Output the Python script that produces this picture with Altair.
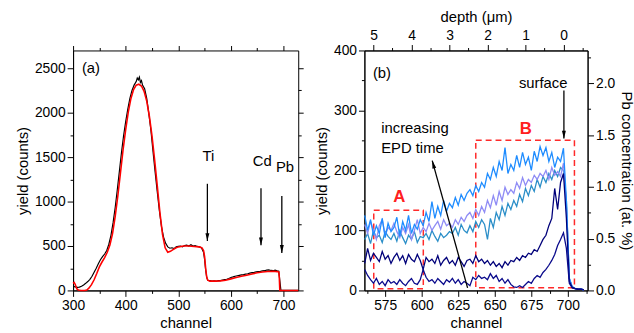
import altair as alt
import pandas as pd

FONT = "Liberation Sans"

# ---------------- panel (a) data ----------------
a_ch = [300, 304, 308, 312, 316, 320, 324, 328, 332, 336, 340, 344, 348, 352, 356, 360,
        364, 368, 372, 376, 380, 384, 388, 392, 396, 400, 404, 408, 412, 416, 420, 422,
        424, 426, 428, 430, 432, 436, 440, 444, 448, 452, 456, 460, 464, 468, 472, 476,
        480, 484, 488, 492, 496, 500, 504, 508, 512, 516, 520, 524, 528, 532, 536, 540,
        544, 548, 550, 552, 554, 556, 560, 564, 568, 572, 576, 580, 584, 588, 592, 596,
        600, 604, 608, 612, 616, 620, 624, 628, 632, 636, 640, 644, 648, 652, 656, 660,
        664, 668, 672, 676, 680, 684, 688, 691, 693, 695, 698, 728]
a_cnt = [45, 40, 35, 38, 48, 62, 80, 100, 125, 160, 205, 250, 300, 345, 380, 410,
         450, 520, 620, 760, 930, 1130, 1340, 1550, 1740, 1900, 2040, 2160, 2250, 2310, 2350, 2390,
         2370, 2400, 2340, 2360, 2310, 2270, 2160, 1990, 1800, 1560, 1330, 1110, 900, 720, 600, 530,
         490, 475, 480, 470, 490, 495, 500, 490, 505, 510, 500, 515, 500, 505, 495, 490,
         480, 430, 350, 230, 150, 115, 110, 105, 108, 104, 112, 110, 118, 122, 126, 135,
         145, 152, 160, 165, 170, 175, 178, 183, 188, 195, 200, 203, 208, 212, 215, 220,
         222, 228, 232, 225, 222, 228, 220, 215, 110, 5, 0, 0]

fit_ch = [300, 302, 304, 307, 310, 315, 322, 326, 330, 335, 340, 345, 350, 355, 360, 365,
          370, 375, 380, 385, 390, 395, 400, 405, 410, 415, 420, 425, 430, 435, 440, 445,
          450, 455, 460, 465, 470, 475, 480, 485, 490, 495, 500, 510, 520, 530, 540, 545,
          548, 550, 552, 554, 556, 560, 570, 580, 590, 600, 610, 620, 630, 640, 650, 660,
          670, 680, 688, 691, 692, 693, 728]
fit_cnt = [80, 90, 70, 20, 5, 0, 0, 5, 25, 65, 120, 190, 265, 320, 370, 430,
           510, 640, 830, 1060, 1320, 1580, 1810, 2010, 2160, 2260, 2310, 2320, 2300, 2240, 2130, 1960,
           1740, 1470, 1180, 880, 630, 480, 430, 440, 460, 478, 490, 500, 500, 495, 490, 480,
           450, 380, 250, 150, 115, 105, 105, 108, 115, 130, 145, 160, 172, 185, 198, 208,
           214, 215, 212, 208, 150, 0, 0]

a_text = ["(a)", "Ti", "Cd", "Pb"]
a_text_ch = [334, 557, 659.4, 702.8]
a_text_cnt = [2500, 1508, 1452, 1389]
a_arrow_ch = [555.3, 657.2, 696.8]
a_arrow_from = [1200, 1149, 1063]
a_arrow_to = [556, 508, 422]

# ---------------- panel (b) data ----------------
b_ch = list(range(561, 713, 2))
s_bright = [125, 100, 118, 92, 108, 95, 120, 88, 112, 98,
            105, 122, 90, 115, 100, 125, 95, 110, 102, 118,
            108, 130, 115, 148, 120, 140, 125, 150, 132, 145,
            138, 155, 142, 160, 150, 162, 168, 158, 175, 165, 180,
            172, 195, 185, 205, 190, 215, 200, 238, 195, 210,
            200, 225, 205, 230, 210, 222, 200, 232, 215, 240,
            225, 238, 215, 230, 205, 222, 215, 237, 150, 20,
            6, 3, 2, 2, 1]
s_lav = [110, 95, 115, 100, 85, 108, 118, 92, 105, 100,
         112, 98, 88, 105, 95, 110, 85, 100, 118, 95,
         105, 98, 112, 100, 108, 115, 102, 118, 108, 112,
         105, 118, 110, 122, 115, 125, 130, 120, 135, 125, 140,
         130, 150, 138, 158, 142, 165, 150, 172, 160, 168,
         162, 180, 170, 188, 175, 185, 180, 192, 185, 195,
         190, 200, 185, 205, 192, 198, 190, 212, 140, 20,
         6, 3, 2, 2, 1]
s_teal = [85, 95, 78, 100, 88, 92, 80, 98, 90, 85,
          95, 82, 100, 88, 78, 92, 85, 98, 80, 90,
          88, 95, 85, 100, 90, 82, 95, 88, 92, 98,
          95, 105, 92, 110, 100, 96, 108, 98, 115, 105, 118,
          110, 85, 120, 105, 130, 118, 140, 125, 145, 135,
          150, 140, 160, 148, 170, 158, 175, 165, 185, 172,
          190, 180, 195, 185, 200, 190, 205, 200, 150, 20,
          6, 3, 2, 2, 1]
s_navy_hi = [45, 70, 50, 62, 55, 48, 65, 52, 58, 45,
             55, 62, 50, 58, 45, 60, 52, 48, 60, 50,
             35, 55, 48, 52, 45, 58, 42, 50, 55, 45,
             50, 42, 55, 48, 40, 50, 52, 45, 58, 48, 52,
             45, 50, 42, 48, 40, 45, 38, 48, 42, 50,
             48, 55, 50, 58, 55, 62, 60, 68, 65, 75,
             85, 92, 108, 120, 170, 135, 180, 195, 120, 15,
             5, 3, 2, 2, 1]
s_navy_lo = [35, 25, 18, 12, 20, 10, 15, 8, 18, 12,
             15, 10, 18, 12, 8, 15, 20, 12, 10, 18,
             35, 22, 15, 18, 12, 20, 15, 10, 18, 14,
             20, 12, 18, 10, 15, 12, 8, 22, 18, 25, 20,
             22, 18, 28, 20, 25, 15, 20, 12, 18, 10,
             6, 5, 8, 5, 10, 15, 12, 20, 25, 22,
             30, 35, 42, 50, 60, 75, 85, 96, 70, 12,
             4, 3, 2, 2, 1]
series_names = ["teal", "lavender", "bright", "navy_hi", "navy_lo"]
series_colors = ["#2a8ec8", "#8f8cf5", "#1e8cff", "#00007a", "#0a0a8c"]
series_values = [s_teal, s_lav, s_bright, s_navy_hi, s_navy_lo]

boxes_ch = [567.2, 637.0]
boxes_ch2 = [601.1, 704.5]
boxes_lo = [2.8, 4.4]
boxes_hi = [133.7, 250.4]
box_text = ["A", "B"]
box_text_ch = [584.7, 671.2]
box_text_cnt = [156, 269.6]

b_text = ["(b)", "surface"]
b_text_ch = [572.8, 683.1]
b_text_cnt = [362.8, 345.2]
epd_text = ["increasing", "EPD time"]
epd_text_ch = [572.3, 572.3]
epd_text_cnt = [270, 237.2]
surf_arrow = {"ch": 697.3, "from": 333.2, "to": 253.2}
epd_arrow = {"ch": 631.4, "cnt": 4.4, "ch2": 607.2, "cnt2": 216.5}

depth_ticks = [5, 4, 3, 2, 1, 0]
conc_ticks = [0.0, 0.5, 1.0, 1.5, 2.0]

# ---------------- helpers ----------------
def cond(test, big, small):
    return {"condition": {"test": test, "value": big}, "value": small}

ARROW_DOWN = "M-0.5,-2L0.5,-2L0,0Z"
ARROW_UP = "M-0.5,2L0.5,2L0,0Z"

# ---------------- panel (a) ----------------
xa_scale = alt.Scale(domain=[300, 728], nice=False, zero=False)
ya_scale = alt.Scale(domain=[0, 2700], nice=False)
xa_axis = alt.Axis(title="channel", values=list(range(300, 701, 50)), format="d",
                   labelExpr="datum.value % 100 == 0 ? datum.label : ''",
                   tickSize=cond("datum.value % 100 == 0", 6, 3))
ya_axis = alt.Axis(title="yield (counts)", values=list(range(0, 2501, 250)), format="d",
                   labelExpr="datum.value % 500 == 0 ? datum.label : ''",
                   tickSize=cond("datum.value % 500 == 0", 6, 3))

def XA(field="ch"):
    return alt.X(f"{field}:Q", scale=xa_scale, axis=xa_axis)

def YA(field="cnt"):
    return alt.Y(f"{field}:Q", scale=ya_scale, axis=ya_axis)

df_a = pd.DataFrame({"ch": a_ch, "cnt": a_cnt})
df_fit = pd.DataFrame({"ch": fit_ch, "cnt": fit_cnt})
df_at = pd.DataFrame({"ch": a_text_ch, "cnt": a_text_cnt, "t": a_text})
df_aarr = pd.DataFrame({"ch": a_arrow_ch, "cnt": a_arrow_from, "cnt2": a_arrow_to})

a_data = alt.Chart(df_a).mark_line(color="black", strokeWidth=1.2).encode(x=XA(), y=YA())
a_fit = alt.Chart(df_fit).mark_line(color="#ff0000", strokeWidth=1.6).encode(x=XA(), y=YA())
a_txt = alt.Chart(df_at).mark_text(font=FONT, fontSize=15, color="black",
                                   align="center", baseline="middle").encode(
    x=XA(), y=YA(), text="t:N")
a_rule = alt.Chart(df_aarr).mark_rule(color="black", strokeWidth=1.3).encode(
    x=XA(), y=YA(), y2=alt.Y2("cnt2:Q"))
a_head = alt.Chart(df_aarr).mark_point(shape=ARROW_DOWN, size=64, filled=True,
                                       color="black", opacity=1).encode(
    x=XA(), y=YA("cnt2"))
a_main = alt.layer(a_data, a_fit, a_txt, a_rule, a_head)

a_mirror = alt.Chart(df_fit).mark_point(opacity=0).encode(
    x=alt.X("ch:Q", scale=xa_scale,
            axis=alt.Axis(orient="top", title=None, labels=False, domain=False,
                          values=list(range(300, 701, 50)),
                          tickSize=cond("datum.value % 100 == 0", 5, 3))),
    y=alt.Y("cnt:Q", scale=ya_scale,
            axis=alt.Axis(orient="right", title=None, labels=False, domain=False,
                          values=list(range(0, 2501, 250)),
                          tickSize=cond("datum.value % 500 == 0", 5, 3))))

panel_a = alt.layer(a_main, a_mirror).resolve_scale(
    x="independent", y="independent").properties(width=228, height=243)

# ---------------- panel (b) ----------------
xb_scale = alt.Scale(domain=[560.8, 713.5], nice=False, zero=False)
yb_scale = alt.Scale(domain=[0, 400], nice=False)
xb_vals = [562.5 + 12.5 * i for i in range(13)]
xb_axis = alt.Axis(title="channel", values=xb_vals, format="d",
                   labelExpr="datum.value % 25 == 0 ? datum.label : ''",
                   tickSize=cond("datum.value % 25 == 0", 6, 3))
yb_axis = alt.Axis(title="yield (counts)", values=list(range(0, 401, 50)), format="d",
                   labelExpr="datum.value % 100 == 0 ? datum.label : ''",
                   tickSize=cond("datum.value % 100 == 0", 6, 3))

def XB(field="ch"):
    return alt.X(f"{field}:Q", scale=xb_scale, axis=xb_axis)

def YB(field="cnt"):
    return alt.Y(f"{field}:Q", scale=yb_scale, axis=yb_axis)

rows = []
for order, (name, vals) in enumerate(zip(series_names, series_values)):
    for c, v in zip(b_ch, vals):
        rows.append({"ch": c, "cnt": v, "s": name, "o": order})
df_b = pd.DataFrame(rows)

b_lines = alt.Chart(df_b).mark_line(strokeWidth=1.3).encode(
    x=XB(), y=YB(),
    color=alt.Color("s:N", scale=alt.Scale(domain=series_names, range=series_colors), legend=None),
    detail="s:N")

df_box = pd.DataFrame({"ch": boxes_ch, "ch2": boxes_ch2, "cnt": boxes_lo, "cnt2": boxes_hi})
b_boxes = alt.Chart(df_box).mark_rect(filled=False, stroke="#ff2a2a",
                                      strokeWidth=1.5, strokeDash=[6, 4]).encode(
    x=XB(), x2=alt.X2("ch2:Q"), y=YB(), y2=alt.Y2("cnt2:Q"))
df_boxt = pd.DataFrame({"ch": box_text_ch, "cnt": box_text_cnt, "t": box_text})
b_boxt = alt.Chart(df_boxt).mark_text(font=FONT, fontSize=17, fontWeight="bold",
                                      color="#ff2020", align="center", baseline="middle").encode(
    x=XB(), y=YB(), text="t:N")

df_bt = pd.DataFrame({"ch": b_text_ch, "cnt": b_text_cnt, "t": b_text})
b_txt = alt.Chart(df_bt).mark_text(font=FONT, fontSize=15, color="black",
                                   align="center", baseline="middle").encode(
    x=XB(), y=YB(), text="t:N")
df_et = pd.DataFrame({"ch": epd_text_ch, "cnt": epd_text_cnt, "t": epd_text})
b_etxt = alt.Chart(df_et).mark_text(font=FONT, fontSize=15, color="black",
                                    align="left", baseline="middle").encode(
    x=XB(), y=YB(), text="t:N")

df_sarr = pd.DataFrame({"ch": [surf_arrow["ch"]], "cnt": [surf_arrow["from"]],
                        "cnt2": [surf_arrow["to"]]})
b_srule = alt.Chart(df_sarr).mark_rule(color="black", strokeWidth=1.3).encode(
    x=XB(), y=YB(), y2=alt.Y2("cnt2:Q"))
b_shead = alt.Chart(df_sarr).mark_point(shape=ARROW_DOWN, size=64, filled=True,
                                        color="black", opacity=1).encode(x=XB(), y=YB("cnt2"))

df_earr = pd.DataFrame({"ch": [epd_arrow["ch"]], "cnt": [epd_arrow["cnt"]],
                        "ch2": [epd_arrow["ch2"]], "cnt2": [epd_arrow["cnt2"]]})
b_erule = alt.Chart(df_earr).mark_rule(color="black", strokeWidth=1.3).encode(
    x=XB(), y=YB(), x2=alt.X2("ch2:Q"), y2=alt.Y2("cnt2:Q"))
b_ehead = alt.Chart(df_earr).mark_point(shape=ARROW_UP, size=64, filled=True, angle=344.5,
                                        color="black", opacity=1).encode(x=XB("ch2"), y=YB("cnt2"))

b_main = alt.layer(b_boxes, b_lines, b_boxt, b_txt, b_etxt, b_srule, b_shead, b_erule, b_ehead)

df_depth = pd.DataFrame({"depth": depth_ticks})
b_depth = alt.Chart(df_depth).mark_point(opacity=0).encode(
    x=alt.X("depth:Q", scale=alt.Scale(domain=[-0.63, 5.24], nice=False, zero=False, reverse=True),
            axis=alt.Axis(orient="top", title="depth (\u03bcm)",
                          values=[x * 0.5 for x in range(-1, 11)],
                          labelExpr="datum.value % 1 == 0 ? '' + datum.value : ''",
                          tickSize=cond("datum.value % 1 == 0", 6, 3))),
    y=alt.value(0))

df_conc = pd.DataFrame({"conc": conc_ticks})
b_conc = alt.Chart(df_conc).mark_point(opacity=0).encode(
    y=alt.Y("conc:Q", scale=alt.Scale(domain=[0, 2.317], nice=False),
            axis=alt.Axis(orient="right", title="Pb concentration (at. %)",
                          values=[x * 0.25 for x in range(0, 10)], format=".1f",
                          labelExpr="datum.value % 0.5 == 0 ? datum.label : ''",
                          tickSize=cond("datum.value % 0.5 == 0", 6, 3))),
    x=alt.value(0))

panel_b = alt.layer(b_main, b_depth, b_conc).resolve_scale(
    x="independent", y="independent").properties(width=226, height=243)

chart = alt.hconcat(panel_a, panel_b, spacing=10).properties(
    padding={"left": 15, "top": 7, "right": 0, "bottom": 0},
    background="white"
).configure_view(stroke="black", strokeWidth=1).configure_axis(
    labelFont=FONT, labelFontSize=14, labelColor="black",
    titleFont=FONT, titleFontSize=15, titleFontWeight="normal", titleColor="black",
    domainColor="black", tickColor="black", tickWidth=1, domainWidth=1,
    grid=False, labelFlush=False, labelOverlap=False, labelPadding=2, titlePadding=4
)

chart.save("out.html", embed_options={"renderer": "svg", "actions": False})
